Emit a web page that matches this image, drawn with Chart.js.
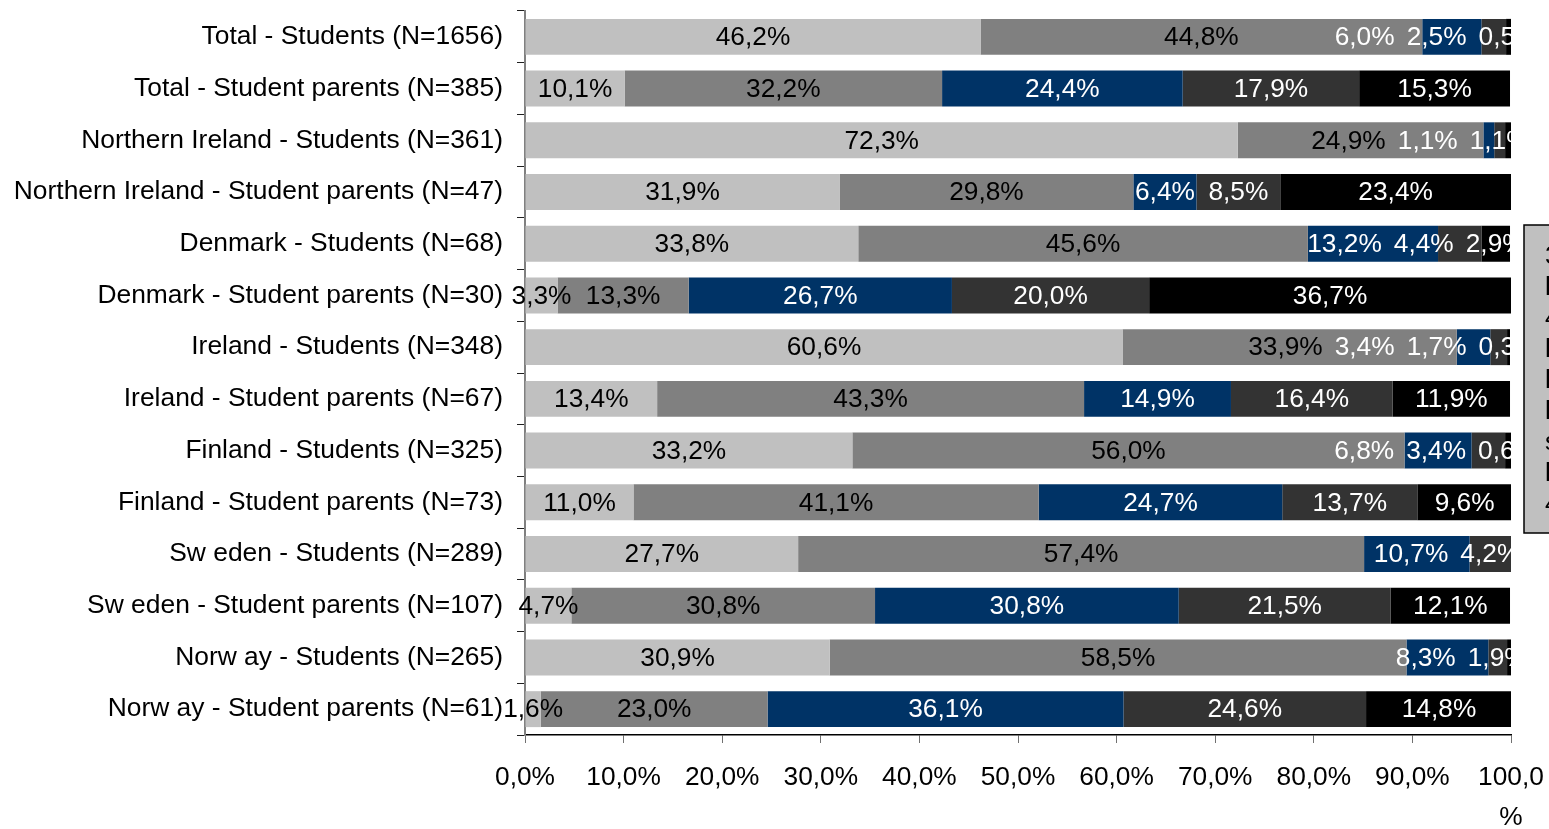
<!DOCTYPE html>
<html>
<head>
<meta charset="utf-8">
<script src="https://cdn.jsdelivr.net/npm/chart.js@4.4.1/dist/chart.umd.min.js"></script>
<style>
  html, body { margin: 0; padding: 0; background: #fff; overflow: hidden; }
  #wrap { width: 1549px; height: 829px; }
</style>
</head>
<body>
<div id="wrap"><canvas id="shareChart"></canvas></div>
<script>
const groups = [
  'Total - Students (N=1656)',
  'Total - Student parents (N=385)',
  'Northern Ireland - Students (N=361)',
  'Northern Ireland - Student parents (N=47)',
  'Denmark - Students (N=68)',
  'Denmark - Student parents (N=30)',
  'Ireland - Students (N=348)',
  'Ireland - Student parents (N=67)',
  'Finland - Students (N=325)',
  'Finland - Student parents (N=73)',
  'Sw eden - Students (N=289)',
  'Sw eden - Student parents (N=107)',
  'Norw ay - Students (N=265)',
  'Norw ay - Student parents (N=61)'
]

const share1 = [46.2, 10.1, 72.3, 31.9, 33.8, 3.3, 60.6, 13.4, 33.2, 11.0, 27.7, 4.7, 30.9, 1.6]
const share2 = [44.8, 32.2, 24.9, 29.8, 45.6, 13.3, 33.9, 43.3, 56.0, 41.1, 57.4, 30.8, 58.5, 23.0]
const share3 = [6.0, 24.4, 1.1, 6.4, 13.2, 26.7, 3.4, 14.9, 6.8, 24.7, 10.7, 30.8, 8.3, 36.1]
const share4 = [2.5, 17.9, 1.1, 8.5, 4.4, 20.0, 1.7, 16.4, 3.4, 13.7, 4.2, 21.5, 1.9, 24.6]
const share5 = [0.5, 15.3, 0.6, 23.4, 2.9, 36.7, 0.3, 11.9, 0.6, 9.6, 0.0, 12.1, 0.4, 14.8]

const xTicks = [0, 10, 20, 30, 40, 50, 60, 70, 80, 90, 100]

// segment labels that are left off (row:series)
const hiddenLabels = ['2:4', '12:4']

// text box on the right, runs off the edge
const noteLines = ['3', 'l', '4', 'l', 'l', 'l', 's', 'l', '4']

const colours = ['#c0c0c0', '#808080', '#003366', '#333333', '#000000']
const labelColours = ['#000', '#000', '#fff', '#fff', '#fff']
const font = '"Liberation Sans", Arial, sans-serif'

const pct = v => v.toFixed(1).replace('.', ',') + '%'

const segmentLabels = {
  id: 'segmentLabels',
  afterDatasetsDraw (chart) {
    const {ctx, chartArea} = chart
    ctx.save()
    ctx.beginPath()
    ctx.rect(0, 0, chartArea.right + 1, chart.height)
    ctx.clip()
    ctx.font = `26.3px ${font}`
    ctx.textAlign = 'center'
    ctx.textBaseline = 'middle'
    groups.forEach((g, row) => {
      const items = []
      chart.data.datasets.forEach((ds, i) => {
        const v = ds.data[row]
        if (!v || hiddenLabels.includes(row + ':' + i)) return
        const bar = chart.getDatasetMeta(i).data[row]
        const text = pct(v)
        items.push({text, x: (bar.x + bar.base) / 2, y: bar.y, w: ctx.measureText(text).width, colour: labelColours[i]})
      })
      // shove crowded labels to the left so they don't overlap
      for (let k = items.length - 2; k >= 0; k--) {
        const next = items[k + 1]
        const limit = next.x - next.w / 2 - 12
        if (items[k].x + items[k].w / 2 > limit) items[k].x = limit - items[k].w / 2
      }
      items.forEach(it => {
        ctx.fillStyle = it.colour
        ctx.fillText(it.text, it.x, it.y + 1)
      })
    })
    ctx.restore()
  }
}

const noteBox = {
  id: 'noteBox',
  afterDraw (chart) {
    const {ctx} = chart
    ctx.save()
    ctx.fillStyle = '#c0c0c0'
    ctx.fillRect(1524, 225, 120, 308)
    ctx.strokeStyle = '#000'
    ctx.lineWidth = 1.5
    ctx.strokeRect(1524, 225, 120, 308)
    ctx.fillStyle = '#000'
    ctx.font = `26px ${font}`
    ctx.textAlign = 'left'
    ctx.textBaseline = 'middle'
    noteLines.forEach((t, i) => ctx.fillText(t, 1545, 257 + i * 31))
    ctx.restore()
  }
}

const data = {
  labels: groups,
  datasets: [share1, share2, share3, share4, share5].map((vals, i) => ({
    label: 'share' + (i + 1),
    data: vals,
    backgroundColor: colours[i],
    borderWidth: 0,
    categoryPercentage: 1,
    barPercentage: 0.695
  }))
}

const options = {
  indexAxis: 'y',
  responsive: true,
  maintainAspectRatio: false,
  animation: false,
  layout: { padding: { top: 11, right: 38, left: 0, bottom: 0 } },
  plugins: {
    legend: { display: false },
    tooltip: { enabled: false }
  },
  scales: {
    x: {
      stacked: true,
      min: 0,
      max: 100,
      afterBuildTicks: scale => { scale.ticks = xTicks.map(value => ({value})) },
      afterFit: scale => { scale.height = 94; scale.paddingLeft = 0; scale.paddingRight = 0 },
      border: { color: '#000', width: 1.5 },
      grid: { drawOnChartArea: false, drawTicks: true, tickLength: 8, color: '#707070' },
      ticks: {
        autoSkip: false,
        maxRotation: 0,
        padding: 14,
        color: '#000',
        font: { family: font, size: 26.3, lineHeight: 1.55 },
        callback: v => v === 100 ? ['100,0', '%'] : pct(v)
      }
    },
    y: {
      stacked: true,
      afterFit: scale => { scale.width = 525; scale.paddingTop = 0; scale.paddingBottom = 0 },
      border: { color: '#808080', width: 2 },
      grid: { drawOnChartArea: false, drawTicks: true, tickLength: 8, color: '#202020', offset: true },
      ticks: {
        autoSkip: false,
        padding: 14,
        color: '#000',
        font: { family: font, size: 26.4 }
      }
    }
  }
}

new Chart(document.getElementById('shareChart'), {
  type: 'bar',
  data,
  options,
  plugins: [segmentLabels, noteBox]
})
</script>
</body>
</html>
